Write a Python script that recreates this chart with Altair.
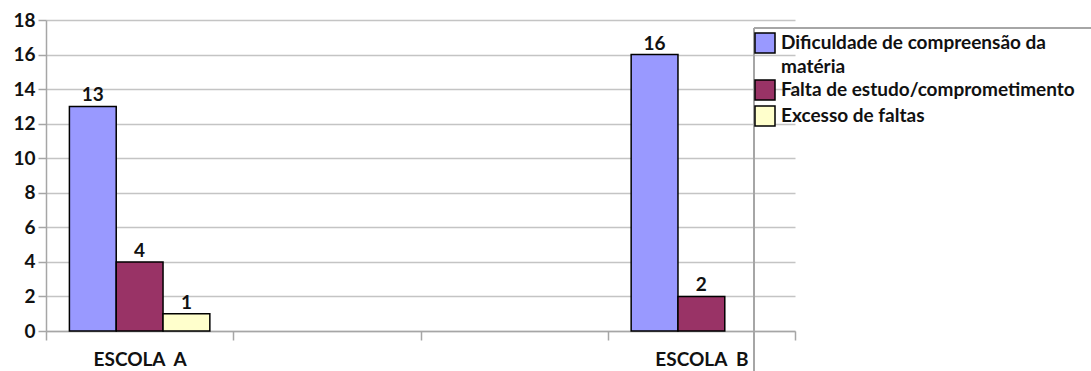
import altair as alt
import pandas as pd

# Data
categories = ["ESCOLA\u00a0\u00a0A", "gap1", "gap2", "ESCOLA\u00a0\u00a0B"]
series = [
    "Dificuldade de compreensão da matéria",
    "Falta de estudo/comprometimento",
    "Excesso de faltas",
]
colors = ["#9999FF", "#993366", "#FFFFCC"]
escola_a = [13, 4, 1]
escola_b = [16, 2, None]

rows = []
for cat, vals in [(categories[0], escola_a), (categories[3], escola_b)]:
    for s, v in zip(series, vals):
        if v is not None:
            rows.append({"escola": cat, "serie": s, "valor": v})
df = pd.DataFrame(rows)

FONT = "Lato"

x_enc = alt.X(
    "escola:N",
    scale=alt.Scale(domain=categories, paddingInner=0, paddingOuter=0),
    axis=alt.Axis(
        title=None,
        labelAngle=0,
        labelExpr="indexof(datum.label, 'gap') == 0 ? '' : datum.label",
        tickBand="extent",
        tickSize=9,
        tickColor="#a6a6a6",
        tickWidth=1.5,
        domainColor="#a6a6a6",
        domainWidth=1.5,
        labelFont=FONT,
        labelFontWeight="bold",
        labelFontSize=19,
        labelColor="#111111",
        labelPadding=10,
        grid=False,
    ),
)
xoff = alt.XOffset(
    "serie:N",
    scale=alt.Scale(domain=series, paddingInner=0, paddingOuter=0.5),
)
y_enc = alt.Y(
    "valor:Q",
    scale=alt.Scale(domain=[0, 18], nice=False),
    axis=alt.Axis(
        title=None,
        values=list(range(0, 19, 2)),
        tickSize=8,
        tickColor="#a6a6a6",
        tickWidth=1.5,
        domainColor="#a6a6a6",
        domainWidth=1.5,
        gridColor="#c4c4c4",
        gridWidth=1.5,
        labelFont=FONT,
        labelFontWeight="bold",
        labelFontSize=19,
        labelColor="#111111",
        labelPadding=3,
    ),
)
color_enc = alt.Color(
    "serie:N",
    scale=alt.Scale(domain=series, range=colors),
    legend=alt.Legend(
        title=None,
        orient="none",
        legendX=708,
        legendY=12,
        symbolType="square",
        symbolSize=400,
        symbolStrokeColor="black",
        symbolStrokeWidth=1.5,
        symbolOpacity=1,
        labelFont=FONT,
        labelFontWeight="bold",
        labelFontSize=19,
        labelColor="#111111",
        labelOffset=5,
        labelLimit=400,
        rowPadding=0,
        padding=0,
        labelExpr="datum.label == 'Dificuldade de compreensão da matéria' ? ['Dificuldade de compreensão da', 'matéria'] : datum.label",
    ),
)

bars = alt.Chart(df).mark_bar(stroke="black", strokeWidth=1.5, opacity=1).encode(
    x=x_enc, xOffset=xoff, y=y_enc, color=color_enc
)
labels = alt.Chart(df).mark_text(
    baseline="bottom", dy=-1, font=FONT, fontWeight="bold", fontSize=19, color="#111111"
).encode(x=x_enc, xOffset=xoff, y=y_enc, text="valor:Q")

border_v = alt.Chart(df).mark_rule(color="#a6a6a6", strokeWidth=1.5).encode(
    x=alt.value(708), y=alt.value(8), y2=alt.value(351)
)
border_h = alt.Chart(df).mark_rule(color="#a6a6a6", strokeWidth=1.5).encode(
    x=alt.value(708), x2=alt.value(1045), y=alt.value(8)
)

chart = (
    alt.layer(bars, labels, border_v, border_h)
    .properties(
        width=749,
        height=311,
        autosize=alt.AutoSizeParams(type="none"),
        padding={"left": 46, "top": 20, "right": 296, "bottom": 40},
        background="white",
    )
    .configure(style={"guide-label": {"lineHeight": 24}})
    .configure_view(stroke=None)
)

chart.save("out.html", embed_options={"renderer": "svg", "actions": False})
